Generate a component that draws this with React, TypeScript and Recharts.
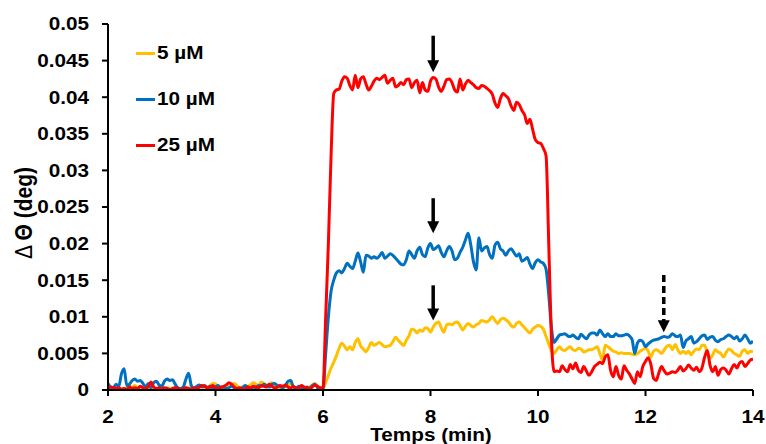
import { LineChart, Line, XAxis, YAxis, ReferenceLine, ReferenceDot } from "recharts";

// time grid: 2 -> 14 min, every 0.05 min
const START = 2;
const STEP = 0.05;

// values in millidegrees, one row = 0.5 min
const uM5 = [
  0.3, 0.1, 0.2, 0.4, 0.3, 0.1, 0.2, 0.3, 0.5, 0.4,
  0.6, 0.3, 0.2, 0.1, 0.3, 0.2, 0.4, 0.2, 0.1, 0.3,
  0.4, 0.2, 0.3, 0.1, 0.2, 0.4, 0.3, 0.2, 0.1, 0.3,
  0.2, 0.4, 0.3, 0.2, 0.4, 0.5, 0.3, 0.4, 0.6, 0.9,
  0.8, 0.5, 0.3, 0.4, 0.6, 0.4, 0.7, 0.9, 0.6, 0.3,
  0.4, 0.3, 0.5, 0.7, 1.0, 0.8, 0.6, 1.1, 0.9, 0.5,
  0.8, 1.0, 0.6, 0.4, 0.3, 0.5, 0.4, 0.6, 0.9, 0.5,
  0.3, 0.4, 0.6, 0.3, 0.2, 0.4, 0.7, 0.9, 0.4, 0.2,
  0.2, 1.0, 2.0, 3.0, 3.8, 4.7, 5.7, 6.4, 6.0, 5.5,
  5.9, 5.5, 6.5, 7.0, 6.0, 5.6, 5.2, 5.8, 6.5, 6.1,
  6.3, 6.5, 6.2, 5.9, 6.0, 6.1, 6.6, 7.2, 6.8, 6.4,
  6.1, 6.8, 7.4, 8.3, 8.2, 7.8, 8.2, 8.0, 8.5, 8.4,
  7.9, 8.6, 9.1, 9.3, 8.5, 7.9, 8.9, 9.0, 8.9, 9.2,
  9.3, 8.8, 8.2, 8.7, 9.1, 8.8, 8.6, 8.9, 9.1, 9.5,
  9.4, 9.3, 9.6, 10.0, 9.5, 9.1, 9.6, 9.8, 9.6, 9.3,
  8.8, 8.6, 9.1, 9.3, 8.9, 8.5, 8.1, 7.8, 8.3, 8.6,
  8.8, 8.7, 8.3, 7.3, 6.3, 5.3, 5.0, 5.5, 5.9, 5.5,
  5.4, 5.7, 5.9, 5.5, 5.4, 5.7, 5.6, 5.2, 5.3, 5.5,
  5.5, 5.7, 5.9, 5.0, 4.1, 6.1, 5.9, 5.6, 5.3, 5.2,
  5.0, 5.1, 5.0, 5.0, 5.0, 4.9, 4.8, 5.0, 5.3, 5.5,
  5.7, 5.3, 4.5, 5.3, 5.5, 5.3, 5.0, 5.5, 6.0, 6.1,
  5.5, 6.2, 5.5, 5.0, 5.3, 5.0, 5.3, 4.8, 5.3, 5.6,
  5.5, 6.1, 6.1, 5.0, 4.3, 4.8, 5.5, 5.2, 5.0, 4.5,
  5.1, 5.6, 5.4, 5.0, 4.8, 4.6, 5.3, 5.5, 5.0, 5.3,
  5.2,
];

const uM10 = [
  0.9, 0.4, 0.3, 0.8, 0.5, 2.2, 2.9, 0.6, 0.8, 1.3,
  1.5, 1.2, 1.3, 0.9, 0.4, 0.9, 0.3, 1.0, 1.2, 0.7,
  0.5, 1.2, 1.5, 1.3, 1.4, 0.8, 0.3, 0.2, 0.4, 1.5,
  2.3, 0.6, 0.2, 0.5, 0.7, 0.4, 0.6, 0.3, 0.5, 0.2,
  0.4, 0.6, 0.3, 0.4, 0.2, 0.3, 0.5, 0.3, 0.2, 0.1,
  0.3, 0.6, 0.4, 0.2, 0.4, 0.3, 0.6, 0.5, 0.8, 0.6,
  0.4, 0.8, 0.9, 0.6, 0.5, 0.3, 0.6, 1.2, 1.3, 0.4,
  0.3, 0.5, 0.3, 0.2, 0.4, 0.2, 0.6, 0.8, 0.3, 0.1,
  0.1, 5.0, 10.0, 13.5, 15.0, 16.0, 16.3, 16.0, 16.6, 17.3,
  16.9, 16.6, 17.6, 18.7, 17.5, 16.1, 18.4, 18.3, 18.0, 18.2,
  18.0, 18.3, 18.8, 18.0, 18.3, 18.6, 18.4, 18.0, 17.6, 17.2,
  17.1, 17.8, 19.0, 18.5, 18.0, 19.0, 19.5, 18.5, 18.2, 19.4,
  20.0, 19.2, 19.4, 19.7, 18.8, 18.2, 19.0, 19.6, 19.0, 17.8,
  18.0, 18.8, 19.5, 20.5, 21.4, 19.8, 17.5, 16.4, 20.8, 19.0,
  19.4, 19.6, 18.5, 18.0, 19.8, 20.2, 19.3, 19.0, 18.4, 19.0,
  19.3, 18.8, 18.3, 18.6, 17.6, 17.8, 18.1, 17.2, 16.6, 17.4,
  17.8, 17.5, 17.3, 16.5, 13.0, 8.5, 6.5, 7.0, 7.5, 7.6,
  7.7, 7.4, 7.3, 7.5, 7.2, 7.0, 7.6, 7.3, 7.0, 7.5,
  7.8, 7.8, 7.5, 8.2, 7.7, 7.3, 7.7, 7.3, 7.3, 7.7,
  7.4, 7.4, 7.5, 7.6, 7.4, 6.9, 5.0, 6.4, 6.8, 6.6,
  5.9, 6.3, 6.6, 6.8, 6.9, 7.0, 7.2, 7.3, 7.2, 7.3,
  7.7, 7.4, 7.3, 7.5, 5.8, 6.7, 7.0, 7.3, 6.4, 6.6,
  7.0, 7.4, 7.5, 6.9, 7.2, 7.3, 6.8, 6.6, 6.9, 7.0,
  7.3, 7.5, 7.3, 7.0, 7.3, 6.7, 7.0, 7.5, 7.0, 6.4,
  6.7,
];

const uM25 = [
  0.2, 0.4, 0.3, 0.2, 0.3, 0.1, 0.2, 0.1, 0.4, 0.2,
  0.3, 0.2, 0.5, 0.3, 0.2, 0.5, 1.1, 0.4, 0.2, 0.3,
  0.1, 0.3, 0.2, 0.1, 0.2, 0.3, 0.2, 0.1, 0.2, 0.3,
  0.2, 0.1, 0.3, 0.2, 0.4, 0.6, 0.5, 0.3, 0.4, 0.6,
  0.3, 0.2, 0.4, 0.5, 0.7, 1.0, 0.8, 0.4, 0.2, 0.3,
  0.1, 0.2, 0.4, 0.3, 0.5, 0.4, 0.3, 0.6, 0.5, 0.4,
  0.8, 0.5, 0.3, 0.4, 0.6, 0.5, 0.7, 0.4, 0.3, 0.5,
  0.2, 0.3, 0.6, 0.4, 0.3, 0.2, 0.4, 0.7, 0.5, 0.3,
  0.3, 10.0, 20.0, 32.0, 40.5, 41.0, 41.1, 42.2, 42.8, 42.6,
  41.6, 41.0, 43.0, 41.3, 42.5, 42.8, 41.8, 41.0, 41.5, 42.2,
  42.6, 42.4, 42.7, 43.0, 41.9, 42.3, 42.6, 41.4, 41.6, 42.0,
  41.7, 42.4, 42.5, 41.3, 42.0, 42.3, 40.6, 42.0, 41.0, 40.8,
  42.2, 42.7, 42.5, 41.4, 40.8, 41.5, 42.4, 42.5, 42.0, 41.0,
  40.7, 42.5, 41.0, 41.8, 42.3, 42.0, 41.7, 41.3, 41.2, 41.6,
  41.5, 41.2, 40.9, 40.4, 39.2, 38.6, 39.8, 40.5, 40.2, 39.8,
  38.8, 38.2, 39.3, 39.0, 38.2, 37.6, 36.4, 37.0, 35.6, 34.2,
  33.8, 33.7, 33.0, 32.0, 20.0, 7.0, 2.5, 2.6, 2.5, 3.3,
  2.8, 2.5, 3.5, 2.9, 3.7, 2.7, 2.4, 3.2, 2.6, 2.0,
  2.5, 3.2, 3.5, 3.8, 3.6, 4.5, 4.8, 2.7, 1.8, 3.2,
  2.0, 1.5, 3.3, 2.7, 2.2, 1.5, 0.9, 2.5, 1.8, 3.2,
  3.9, 4.4, 3.5, 1.6, 1.3, 2.4, 3.2, 2.6, 2.2, 2.3,
  2.5, 2.4, 2.7, 3.2, 2.6, 2.9, 3.4, 3.0, 2.7, 3.1,
  2.5, 3.0, 4.5, 5.4, 3.4, 2.5, 3.2, 2.0, 2.8, 3.0,
  2.7, 2.2, 2.9, 3.5, 3.0, 3.7, 3.9, 3.2, 3.6, 4.1,
  4.2,
];

const seriesKeys = ["c5", "c10", "c25"];
const seriesNames = ["5 µM", "10 µM", "25 µM"];
const seriesColors = ["#FFC000", "#0070C0", "#FF0000"];

const xTicks = [2, 4, 6, 8, 10, 12, 14];
const yTicks = [0, 0.005, 0.01, 0.015, 0.02, 0.025, 0.03, 0.035, 0.04, 0.045, 0.05];

// annotation arrows (time, top of shaft, tip)
const arrowX = [8.05, 8.05, 8.05, 12.34];
const arrowTop = [0.0484, 0.0262, 0.0143, 0.0157];
const arrowTip = [0.0434, 0.0214, 0.0095, 0.0079];
const arrowDashed = [false, false, false, true];

const data = uM5.map((v, i) => ({
  t: Math.round((START + i * STEP) * 100) / 100,
  c5: v / 1000,
  c10: uM10[i] / 1000,
  c25: uM25[i] / 1000,
}));

const FONT = "'Liberation Sans', Arial, sans-serif";
const SX = 1.15;

const XTick = (props: any) => {
  const { x, y, payload } = props;
  return (
    <g transform={`translate(${x},${y})`}>
      <text transform={`scale(${SX},1)`} textAnchor="middle" dy="0.71em" fontFamily={FONT} fontWeight="bold" fontSize={18} fill="#000">
        {payload.value}
      </text>
    </g>
  );
};

const YTick = (props: any) => {
  const { x, y, payload } = props;
  return (
    <g transform={`translate(${x},${y})`}>
      <text transform={`scale(${SX},1)`} textAnchor="end" dy="0.355em" fontFamily={FONT} fontWeight="bold" fontSize={18} fill="#000">
        {String(payload.value)}
      </text>
    </g>
  );
};

const ArrowHead = (props: any) => {
  const { cx, cy } = props;
  if (cx == null || cy == null) return null;
  return <path d={`M${cx - 6},${cy - 12} L${cx + 6},${cy - 12} L${cx},${cy} Z`} fill="#000" />;
};

export default function App() {
  return (
    <div style={{ position: "absolute", left: 0, top: 0, width: 766, height: 444, background: "#fff", fontFamily: FONT }}>
      <LineChart width={766} height={444} data={data} margin={{ top: 24, right: 13, bottom: 0, left: 0 }}>
        <XAxis
          dataKey="t"
          type="number"
          domain={[2, 14]}
          ticks={xTicks}
          allowDataOverflow
          height={54}
          tickSize={6}
          tickMargin={14}
          stroke="#000"
          strokeWidth={2}
          tick={<XTick />}
        />
        <YAxis
          type="number"
          domain={[0, 0.05]}
          ticks={yTicks}
          allowDataOverflow
          width={108}
          tickSize={6}
          tickMargin={13}
          stroke="#000"
          strokeWidth={2}
          tick={<YTick />}
        />
        {seriesKeys.map((k, i) => (
          <Line
            key={k}
            dataKey={k}
            type="monotone"
            stroke={seriesColors[i]}
            strokeWidth={3}
            dot={false}
            activeDot={false}
            isAnimationActive={false}
          />
        ))}
        {arrowX.map((x, i) => (
          <ReferenceLine
            key={"s" + i}
            segment={[
              { x, y: arrowTop[i] },
              { x, y: arrowTip[i] + 0.0012 },
            ]}
            stroke="#000"
            strokeWidth={3.5}
            strokeDasharray={arrowDashed[i] ? "7 4" : undefined}
          />
        ))}
        {arrowX.map((x, i) => (
          <ReferenceDot key={"h" + i} x={x} y={arrowTip[i]} r={6} shape={<ArrowHead />} />
        ))}
      </LineChart>

      {/* legend */}
      {seriesNames.map((n, i) => (
        <div
          key={n}
          style={{ position: "absolute", left: 136, top: 53 + i * 46 - 11, height: 22, display: "flex", alignItems: "center" }}
        >
          <div style={{ width: 19, height: 3, background: seriesColors[i], marginRight: 2 }} />
          <span
            style={{
              fontSize: 18,
              fontWeight: "bold",
              display: "inline-block",
              transform: `scaleX(${SX})`,
              transformOrigin: "left center",
              whiteSpace: "nowrap",
            }}
          >
            {n}
          </span>
        </div>
      ))}

      {/* axis titles */}
      <div
        style={{
          position: "absolute",
          left: 24,
          top: 213,
          transform: `translate(-50%,-50%) rotate(-90deg) scaleY(${SX})`,
          whiteSpace: "nowrap",
          fontSize: 21,
          lineHeight: "24px",
        }}
      >
        <span>Δ </span>
        <span style={{ fontWeight: "bold" }}>Θ (deg)</span>
      </div>
      <div
        style={{
          position: "absolute",
          left: 431,
          top: 425,
          transform: `translateX(-50%) scaleX(${SX})`,
          whiteSpace: "nowrap",
          fontSize: 18,
          fontWeight: "bold",
          lineHeight: "20px",
        }}
      >
        Temps (min)
      </div>
    </div>
  );
}
